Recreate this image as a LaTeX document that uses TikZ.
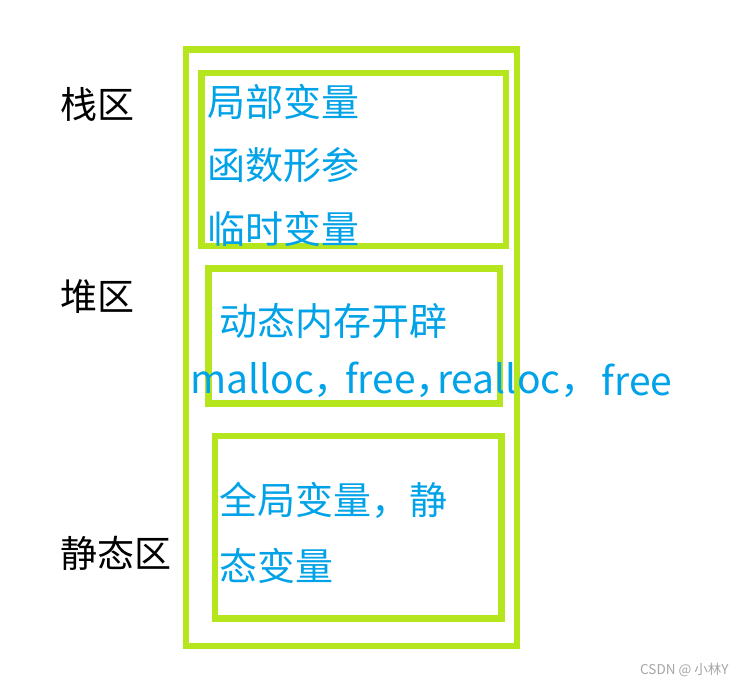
\documentclass[tikz,border=0pt]{standalone}
\usepackage{fontspec}
\setmainfont{Noto Sans CJK SC}
\definecolor{lime}{RGB}{181,230,29}
\definecolor{txtblue}{RGB}{0,162,232}
\begin{document}
\begin{tikzpicture}[x=1pt,y=-1pt,
  box/.style={draw=lime,line width=6.5pt},
  item/.style={anchor=west,inner sep=0pt,text=txtblue,font=\fontsize{38}{38}\selectfont},
  latin/.style={item,font=\fontsize{39}{39}\selectfont},
  lbl/.style={anchor=west,inner sep=0pt,text=black,font=\fontsize{37}{37}\selectfont}]
\useasboundingbox (0,0) rectangle (739,685);
\fill[white] (0,0) rectangle (739,685);
% boxes
\draw[box] (186,49.5) rectangle (517,646);
\draw[box] (201.5,73) rectangle (506,246);
\draw[box] (208.5,268.5) rectangle (500,403.5);
\draw[box] (215,436) rectangle (501.5,618.5);
% left labels
\node[lbl] (zhan) at (60,104) {栈区};
\node[lbl] (dui) at (60,297) {堆区};
\node[lbl] (jing) at (60,553) {静态区};
% stack items
\node[item] (a1) at (207,102) {局部变量};
\node[item] (a2) at (207,165) {函数形参};
\node[item] (a3) at (207,229) {临时变量};
% heap items
\node[item] (b1) at (219,321) {动态内存开辟};
\node[latin] (b2) at (190,380) {malloc，};
\node[latin] (b3) at (345,380) {free，};
\node[latin] (b4) at (437,380) {realloc，};
\node[latin] (b5) at (b4.east) [anchor=west,xshift=2pt] {free};
% static items
\node[item] (c1) at (219,500) {全局变量，静};
\node[item] (c2) at (219,566) {态变量};
% watermark
\node[anchor=west,inner sep=0pt,text=black!35,font=\fontsize{13.5}{13.5}\selectfont] (wm) at (640,670) {CSDN @ 小林Y};
\end{tikzpicture}
\end{document}
